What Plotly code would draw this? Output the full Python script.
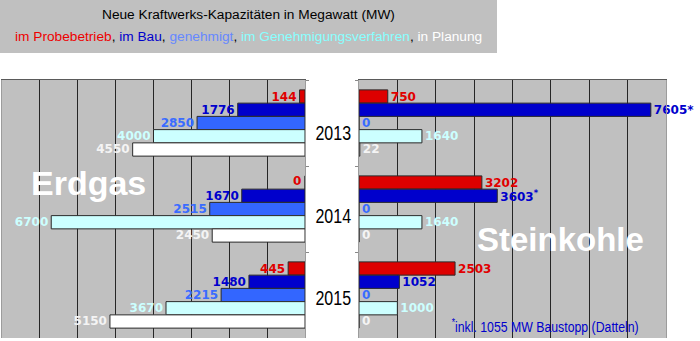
import plotly.graph_objects as go

# Years (one bar group per year)
years = ["2013", "2014", "2015"]

# Status categories, top to bottom inside each group
status_names = ["im Probebetrieb", "im Bau", "genehmigt",
                "im Genehmigungsverfahren", "in Planung"]
bar_colors = ["#dd0000", "#0000cc", "#3366ff", "#ccffff", "#ffffff"]
label_colors = ["#e00000", "#0000cc", "#3a6cff", "#ccffff", "#f4f4f4"]

# Natural gas (Erdgas), MW
gas_probebetrieb = [144, 0, 445]
gas_bau = [1776, 1670, 1480]
gas_genehmigt = [2850, 2515, 2215]
gas_verfahren = [4000, 6700, 3670]
gas_planung = [4550, 2450, 5150]

# Hard coal (Steinkohle), MW
coal_probebetrieb = [750, 3202, 2503]
coal_bau = [7605, 3603, 1052]
coal_genehmigt = [0, 0, 0]
coal_verfahren = [1640, 1640, 1000]
coal_planung = [22, 0, 0]

# footnote marks attached to the coal "im Bau" values
coal_bau_marks = ["*", "<sup>*</sup>", ""]

gas_series = [gas_probebetrieb, gas_bau, gas_genehmigt, gas_verfahren, gas_planung]
coal_series = [coal_probebetrieb, coal_bau, coal_genehmigt, coal_verfahren, coal_planung]

W, H = 700, 341
PLOT_TOP, PLOT_BOTTOM = 80, 338
GAS_X = (2, 305)
COAL_X = (359, 666)
BARGAP = 0.23


def px_x(p):
    return p / W


def px_y(p):
    return (H - p) / H


fig = go.Figure()

label_font = dict(family="Verdana, DejaVu Sans, sans-serif", size=12, weight="bold")

# Gas panel: the x axis is reversed, so labels of zero-length bars are
# added separately to keep them on the left side of the axis.
zero_gas_labels = []
for i, (name, vals) in enumerate(zip(status_names, gas_series)):
    texts = []
    for g, v in enumerate(vals):
        if v == 0:
            texts.append("")
            zero_gas_labels.append((i, g, v))
        else:
            texts.append(str(v))
    fig.add_trace(go.Bar(
        y=years, x=vals, orientation="h", name=name,
        marker=dict(color=bar_colors[i], line=dict(color="#2a2a2a", width=1)),
        text=texts, textposition="outside", textangle=0,
        constraintext="none", cliponaxis=False,
        textfont=dict(color=label_colors[i], **label_font),
        xaxis="x", yaxis="y", hoverinfo="skip",
    ))

for i, (name, vals) in enumerate(zip(status_names, coal_series)):
    if i == 1:
        texts = [f"{v}{m}" for v, m in zip(vals, coal_bau_marks)]
    else:
        texts = [str(v) for v in vals]
    fig.add_trace(go.Bar(
        y=years, x=vals, orientation="h", name=name,
        marker=dict(color=bar_colors[i], line=dict(color="#2a2a2a", width=1)),
        text=texts, textposition="outside", textangle=0,
        constraintext="none", cliponaxis=False,
        textfont=dict(color=label_colors[i], **label_font),
        xaxis="x2", yaxis="y2", hoverinfo="skip",
    ))

# bar geometry in pixels, used to place the zero-value labels
group_px = (PLOT_BOTTOM - PLOT_TOP) / len(years)
bar_px = group_px * (1 - BARGAP) / len(status_names)
for i, g, v in zero_gas_labels:
    yc = PLOT_TOP + (g + 0.5) * group_px + (i - (len(status_names) - 1) / 2) * bar_px
    fig.add_annotation(
        x=px_x(GAS_X[1] - 2), y=px_y(yc - 2), xref="paper", yref="paper",
        text=str(v), showarrow=False, xanchor="right", yanchor="middle",
        font=dict(color=label_colors[i], **label_font),
    )

y_dom = [px_y(PLOT_BOTTOM), px_y(PLOT_TOP)]

common_x = dict(
    dtick=1000, tick0=0, showgrid=True, gridcolor="#262626", gridwidth=1,
    zeroline=False, showticklabels=False, ticks="", side="top",
    showline=True, linecolor="#5a5a5a", linewidth=1, fixedrange=True,
)
common_y = dict(
    type="category", categoryorder="array", categoryarray=years,
    autorange="reversed", showticklabels=False, showgrid=False,
    ticks="outside", tickson="boundaries", ticklen=3, tickcolor="#888888",
    showline=True, mirror=True, linecolor="#9c9c9c", linewidth=1,
    domain=y_dom, fixedrange=True,
)

fig.update_layout(
    width=W, height=H, margin=dict(l=0, r=0, t=0, b=0),
    paper_bgcolor="#ffffff", plot_bgcolor="#c0c0c0",
    showlegend=False, barmode="group", bargap=BARGAP, bargroupgap=0,
    xaxis=dict(domain=[px_x(GAS_X[0]), px_x(GAS_X[1])], range=[8000, 0],
               anchor="y", **common_x),
    xaxis2=dict(domain=[px_x(COAL_X[0]), px_x(COAL_X[1])], range=[0, 8000],
                anchor="y2", **common_x),
    yaxis=dict(anchor="x", side="right", **common_y),
    yaxis2=dict(anchor="x2", side="left", **common_y),
)

# Title box
fig.add_shape(type="rect", xref="paper", yref="paper",
              x0=0, x1=px_x(497), y0=px_y(53), y1=1,
              fillcolor="#c0c0c0", line=dict(width=0), layer="below")

title_font = "Arial, Liberation Sans, sans-serif"
fig.add_annotation(
    x=px_x(248.5), y=px_y(14.5), xref="paper", yref="paper",
    text="Neue Kraftwerks-Kapazitäten in Megawatt (MW)", showarrow=False,
    xanchor="center", yanchor="middle",
    font=dict(family=title_font, size=13.7, color="#000000"),
)
fig.add_annotation(
    x=px_x(248.5), y=px_y(36), xref="paper", yref="paper",
    text=("<span style='color:#ee0000'>im Probebetrieb</span>, "
          "<span style='color:#0000cc'>im Bau</span>, "
          "<span style='color:#6688ff'>genehmigt</span>, "
          "<span style='color:#88ffff'>im Genehmigungsverfahren</span>, "
          "<span style='color:#ffffff'>in Planung</span>"),
    showarrow=False, xanchor="center", yanchor="middle",
    font=dict(family=title_font, size=13.7, color="#000000"),
)

# Panel titles
fig.add_annotation(
    x=px_x(29), y=px_y(183), xref="paper", yref="paper", text="<b>Erdgas</b>",
    showarrow=False, xanchor="left", yanchor="middle",
    font=dict(family=title_font, size=34, color="#ffffff"),
)
fig.add_annotation(
    x=px_x(475), y=px_y(239), xref="paper", yref="paper", text="<b>Steinkohle</b>",
    showarrow=False, xanchor="left", yanchor="middle",
    font=dict(family=title_font, size=33, color="#ffffff"),
)

# Condensed texts: year labels between the panels and the footnote.
# Each entry maps an annotation index to its horizontal squeeze factor.
condensed = {}
for yr, yc in zip(years, [133, 215.5, 297.5]):
    condensed[len(fig.layout.annotations)] = 0.8
    fig.add_annotation(
        x=px_x(333), y=px_y(yc), xref="paper", yref="paper", text=yr,
        showarrow=False, xanchor="center", yanchor="middle",
        font=dict(family=title_font, size=20, color="#000000"),
    )

condensed[len(fig.layout.annotations)] = 0.82
fig.add_annotation(
    x=px_x(545), y=px_y(325), xref="paper", yref="paper",
    text="<sup>*</sup>inkl. 1055 MW Baustopp (Datteln)",
    showarrow=False, xanchor="center", yanchor="middle",
    font=dict(family=title_font, size=15, color="#0000cc"),
)

condensed_js = "{" + ",".join(f'"{k}": {v}' for k, v in condensed.items()) + "}"
narrow_js = """
var gd = document.getElementById('{plot_id}');
var squeeze = %s;
gd.querySelectorAll('g.annotation').forEach(function (g) {
  var k = g.getAttribute('data-index');
  if (!(k in squeeze)) return;
  var t = g.querySelector('text.annotation-text');
  if (!t) return;
  var b = t.getBBox();
  var cx = b.x + b.width / 2;
  t.setAttribute('transform',
    'translate(' + cx + ',0) scale(' + squeeze[k] + ',1) translate(' + (-cx) + ',0)');
});
""" % condensed_js

fig.write_html("out.html", post_script=narrow_js)
